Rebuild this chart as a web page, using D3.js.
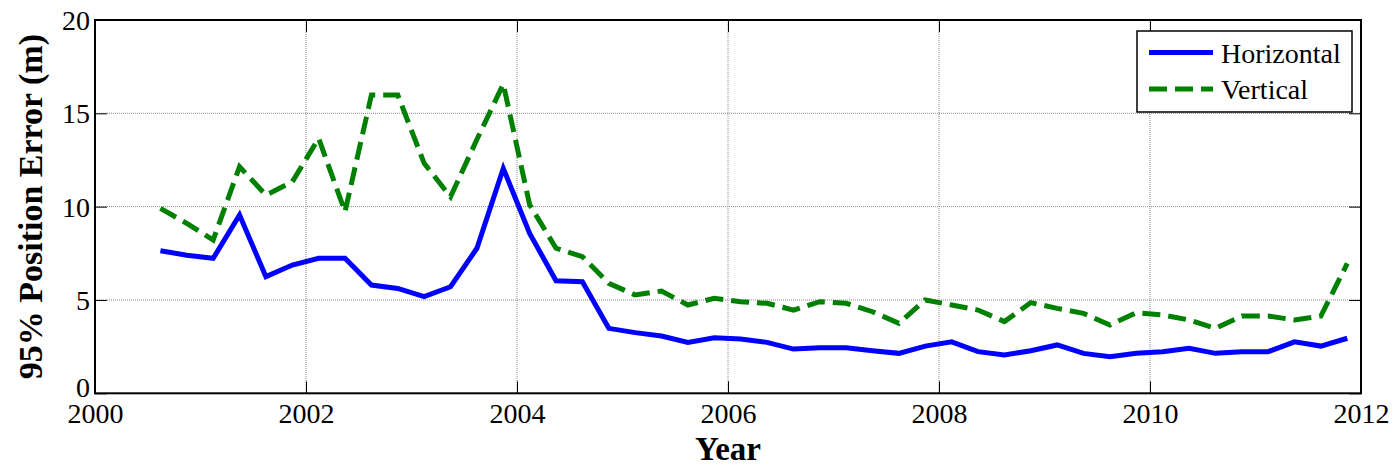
<!DOCTYPE html>
<html>
<head>
<meta charset="utf-8">
<script src="https://cdn.jsdelivr.net/npm/d3@7"></script>
<style>
  html, body { margin: 0; padding: 0; background: #fff; }
  svg { display: block; }
</style>
</head>
<body>
<svg id="chart" width="1397" height="467"></svg>
<script>
const dates = [2000.62, 2000.87, 2001.12, 2001.37, 2001.62, 2001.87, 2002.12, 2002.37,
  2002.62, 2002.87, 2003.12, 2003.37, 2003.62, 2003.87, 2004.12, 2004.37,
  2004.62, 2004.87, 2005.12, 2005.37, 2005.62, 2005.87, 2006.12, 2006.37,
  2006.62, 2006.87, 2007.12, 2007.37, 2007.62, 2007.87, 2008.12, 2008.37,
  2008.62, 2008.87, 2009.12, 2009.37, 2009.62, 2009.87, 2010.12, 2010.37,
  2010.62, 2010.87, 2011.12, 2011.37, 2011.62, 2011.87];
const horizontal = [7.64, 7.4, 7.23, 9.55, 6.25, 6.87, 7.23, 7.23,
  5.8, 5.62, 5.18, 5.71, 7.77, 12.05, 8.57, 6.03,
  5.98, 3.48, 3.25, 3.07, 2.73, 2.98, 2.91, 2.73,
  2.37, 2.44, 2.44, 2.28, 2.14, 2.53, 2.76, 2.23,
  2.05, 2.28, 2.59, 2.14, 1.96, 2.14, 2.23, 2.41,
  2.14, 2.23, 2.23, 2.76, 2.53, 2.95];
const vertical = [9.91, 9.1, 8.21, 12.14, 10.62, 11.33, 13.66, 9.73,
  15.98, 15.98, 12.32, 10.53, 13.6, 16.57, 10.1, 7.77,
  7.32, 5.89, 5.27, 5.48, 4.73, 5.09, 4.91, 4.82,
  4.46, 4.91, 4.82, 4.37, 3.75, 5.0, 4.73, 4.46,
  3.84, 4.86, 4.55, 4.28, 3.66, 4.32, 4.2, 3.93,
  3.48, 4.14, 4.14, 3.93, 4.14, 6.96];
const xTicks = [2000, 2002, 2004, 2006, 2008, 2010, 2012];
const yTicks = [0, 5, 10, 15, 20];
const seriesNames = ["Horizontal", "Vertical"];

const FONT = "'Liberation Serif'";
const svg = d3.select("#chart");
const L = 95, R = 1361, T = 20, B = 393.3;
const x = d3.scaleLinear().domain([2000, 2012]).range([L, R]);
const y = d3.scaleLinear().domain([0, 20]).range([B, T]);

// grid
const grid = svg.append("g");
grid.selectAll("line.gx").data(xTicks.slice(1, -1)).join("line")
  .attr("x1", d => x(d)).attr("x2", d => x(d)).attr("y1", T).attr("y2", B)
  .attr("stroke", "#8a8a8a").attr("stroke-width", 1).attr("stroke-dasharray", "1,1");
grid.selectAll("line.gy").data(yTicks.slice(1, -1)).join("line")
  .attr("y1", d => y(d)).attr("y2", d => y(d)).attr("x1", L).attr("x2", R)
  .attr("stroke", "#8a8a8a").attr("stroke-width", 1).attr("stroke-dasharray", "1,1");

// axes with inward ticks on all sides
const tl = 12;
const axB = svg.append("g").attr("transform", `translate(0,${B})`)
  .call(d3.axisBottom(x).tickValues(xTicks).tickFormat(d3.format("d")).tickSizeInner(-tl).tickSizeOuter(0));
const axT = svg.append("g").attr("transform", `translate(0,${T})`)
  .call(d3.axisTop(x).tickValues(xTicks).tickFormat("").tickSizeInner(-tl).tickSizeOuter(0));
const axL = svg.append("g").attr("transform", `translate(${L},0)`)
  .call(d3.axisLeft(y).tickValues(yTicks).tickSizeInner(-tl).tickSizeOuter(0));
const axR = svg.append("g").attr("transform", `translate(${R},0)`)
  .call(d3.axisRight(y).tickValues(yTicks).tickFormat("").tickSizeInner(-tl).tickSizeOuter(0));
[axB, axT, axL, axR].forEach(a => {
  a.attr("font-family", null).attr("font-size", null);
  a.select(".domain").remove();
  a.selectAll(".tick line").attr("stroke", "#000").attr("stroke-width", 1);
  a.selectAll("text").attr("fill", "#000").style("font-family", FONT).style("font-size", "28px");
});
axB.selectAll("text").attr("y", 8).attr("dy", "0.76em");
axL.selectAll("text").attr("x", -5).attr("dy", d => d === 0 ? "0.12em" : "0.34em");

// lines
const line = d3.line().x((d, i) => x(dates[i])).y(d => y(d));
svg.append("path").datum(horizontal).attr("d", line)
  .attr("fill", "none").attr("stroke", "#0000ff").attr("stroke-width", 5).attr("stroke-linejoin", "miter");
svg.append("path").datum(vertical).attr("d", line)
  .attr("fill", "none").attr("stroke", "#008000").attr("stroke-width", 5)
  .attr("stroke-dasharray", "18,8").attr("stroke-linejoin", "miter");

// box
svg.append("rect").attr("x", L).attr("y", T).attr("width", R - L).attr("height", B - T)
  .attr("fill", "none").attr("stroke", "#000").attr("stroke-width", 2);

// axis titles
svg.append("text").attr("x", (L + R) / 2).attr("y", 460).attr("text-anchor", "middle")
  .style("font-family", FONT).style("font-weight", "bold").style("font-size", "33px").text("Year");
svg.append("text").attr("transform", `translate(42,${(T + B) / 2}) rotate(-90)`)
  .attr("text-anchor", "middle").style("font-family", FONT).style("font-weight", "bold").style("font-size", "34px")
  .text("95% Position Error (m)");

// legend
const lg = svg.append("g");
lg.append("rect").attr("x", 1137).attr("y", 31).attr("width", 215).attr("height", 81)
  .attr("fill", "#fff").attr("stroke", "#000").attr("stroke-width", 1.5);
const rows = [
  { name: seriesNames[0], color: "#0000ff", dash: null, cy: 52.5 },
  { name: seriesNames[1], color: "#008000", dash: "18,8", cy: 89 }
];
rows.forEach(r => {
  lg.append("line").attr("x1", 1149).attr("x2", 1213).attr("y1", r.cy).attr("y2", r.cy)
    .attr("stroke", r.color).attr("stroke-width", 5).attr("stroke-dasharray", r.dash);
  lg.append("text").attr("x", 1221).attr("y", r.cy + 10)
    .style("font-family", FONT).style("font-size", "28px").text(r.name);
});
</script>
</body>
</html>
